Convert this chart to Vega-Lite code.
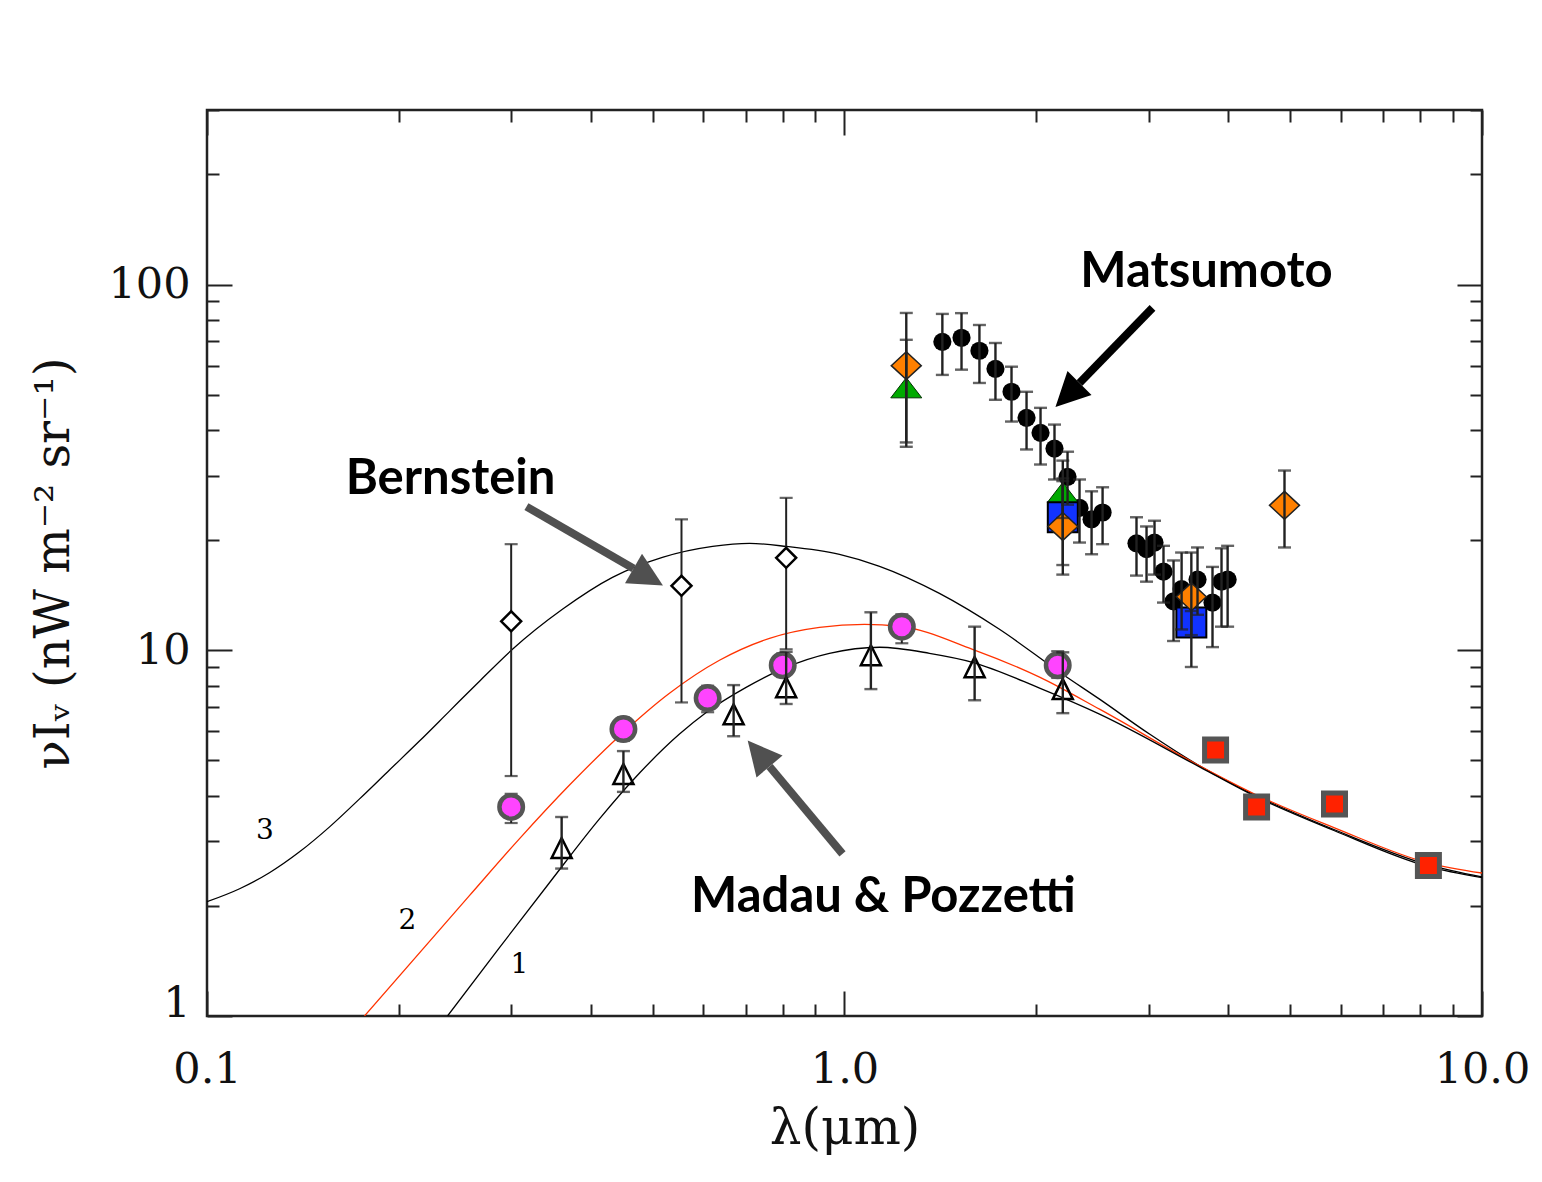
{
  "$schema": "https://vega.github.io/schema/vega-lite/v6.json",
  "width": 1275,
  "height": 906,
  "autosize": {"type": "none"},
  "padding": {"left": 207, "top": 110, "right": 60, "bottom": 166},
  "background": "white",
  "config": {
    "view": {"stroke": "#222", "strokeWidth": 2.5},
    "axis": {
      "domain": false, "grid": false, "tickColor": "#222", "tickWidth": 2,
      "labelFont": "DejaVu Serif", "labelFontSize": 43, "labelColor": "#111",
      "titleFont": "DejaVu Serif", "titleFontWeight": "normal", "titleColor": "#111"
    }
  },
  "datasets": {
    "curves": [
      {"model": "3", "lam": 0.1, "v": 2.053}, {"model": "3", "lam": 0.1125, "v": 2.228}, {"model": "3", "lam": 0.1253, "v": 2.464},
      {"model": "3", "lam": 0.1397, "v": 2.811}, {"model": "3", "lam": 0.1557, "v": 3.289}, {"model": "3", "lam": 0.1735, "v": 3.923},
      {"model": "3", "lam": 0.1933, "v": 4.706}, {"model": "3", "lam": 0.2154, "v": 5.645}, {"model": "3", "lam": 0.2401, "v": 6.818},
      {"model": "3", "lam": 0.2676, "v": 8.23}, {"model": "3", "lam": 0.3014, "v": 10.06}, {"model": "3", "lam": 0.361, "v": 12.94},
      {"model": "3", "lam": 0.4325, "v": 15.82}, {"model": "3", "lam": 0.518, "v": 17.94}, {"model": "3", "lam": 0.621, "v": 19.22},
      {"model": "3", "lam": 0.7096, "v": 19.6}, {"model": "3", "lam": 0.811, "v": 19.22}, {"model": "3", "lam": 0.982, "v": 18.28},
      {"model": "3", "lam": 1.135, "v": 16.96}, {"model": "3", "lam": 1.409, "v": 14.3}, {"model": "3", "lam": 1.75, "v": 11.41},
      {"model": "3", "lam": 2.198, "v": 8.6}, {"model": "3", "lam": 2.512, "v": 7.35}, {"model": "3", "lam": 3.009, "v": 5.9},
      {"model": "3", "lam": 3.605, "v": 4.83}, {"model": "3", "lam": 4.43, "v": 4.0}, {"model": "3", "lam": 5.87, "v": 3.23},
      {"model": "3", "lam": 8.24, "v": 2.59}, {"model": "3", "lam": 10, "v": 2.4},
      {"model": "2", "lam": 0.1766, "v": 1.0}, {"model": "2", "lam": 0.258, "v": 2.133}, {"model": "2", "lam": 0.309, "v": 3.05},
      {"model": "2", "lam": 0.3704, "v": 4.28}, {"model": "2", "lam": 0.4436, "v": 5.83}, {"model": "2", "lam": 0.5314, "v": 7.63},
      {"model": "2", "lam": 0.6366, "v": 9.39}, {"model": "2", "lam": 0.7628, "v": 10.78}, {"model": "2", "lam": 0.9137, "v": 11.55},
      {"model": "2", "lam": 1.075, "v": 11.77}, {"model": "2", "lam": 1.22, "v": 11.63}, {"model": "2", "lam": 1.588, "v": 10.06},
      {"model": "2", "lam": 2.023, "v": 8.44}, {"model": "2", "lam": 2.512, "v": 6.9}, {"model": "2", "lam": 3.605, "v": 4.83},
      {"model": "2", "lam": 4.43, "v": 4.02}, {"model": "2", "lam": 5.87, "v": 3.27}, {"model": "2", "lam": 8.24, "v": 2.62},
      {"model": "2", "lam": 10, "v": 2.46},
      {"model": "1", "lam": 0.2384, "v": 1.0}, {"model": "1", "lam": 0.2876, "v": 1.538}, {"model": "1", "lam": 0.3445, "v": 2.314},
      {"model": "1", "lam": 0.4127, "v": 3.459}, {"model": "1", "lam": 0.477, "v": 4.617}, {"model": "1", "lam": 0.551, "v": 5.9},
      {"model": "1", "lam": 0.6075, "v": 6.77}, {"model": "1", "lam": 0.702, "v": 7.93}, {"model": "1", "lam": 0.811, "v": 8.99},
      {"model": "1", "lam": 0.947, "v": 9.81}, {"model": "1", "lam": 1.135, "v": 10.19}, {"model": "1", "lam": 1.359, "v": 9.81},
      {"model": "1", "lam": 1.588, "v": 9.27}, {"model": "1", "lam": 2.023, "v": 7.88}, {"model": "1", "lam": 2.512, "v": 6.69},
      {"model": "1", "lam": 3.605, "v": 4.8}, {"model": "1", "lam": 4.43, "v": 3.97}, {"model": "1", "lam": 5.87, "v": 3.21},
      {"model": "1", "lam": 8.24, "v": 2.56}, {"model": "1", "lam": 10, "v": 2.39}
    ],
    "curveLabels": [
      {"label": "3", "lam": 0.1233, "v": 3.21},
      {"label": "2", "lam": 0.2063, "v": 1.82},
      {"label": "1", "lam": 0.309, "v": 1.38}
    ],
    "pts": [
      {"set": "matsumoto", "lam": 1.424, "v": 69.7, "lo": 56.6, "hi": 83.1},
      {"set": "matsumoto", "lam": 1.526, "v": 71.5, "lo": 58.5, "hi": 83.5},
      {"set": "matsumoto", "lam": 1.628, "v": 65.9, "lo": 53.8, "hi": 77.5},
      {"set": "matsumoto", "lam": 1.725, "v": 58.8, "lo": 48.4, "hi": 69.2},
      {"set": "matsumoto", "lam": 1.828, "v": 50.9, "lo": 42.2, "hi": 59.6},
      {"set": "matsumoto", "lam": 1.93, "v": 43.2, "lo": 35.4, "hi": 50.9},
      {"set": "matsumoto", "lam": 2.03, "v": 39.3, "lo": 32.2, "hi": 46.0},
      {"set": "matsumoto", "lam": 2.135, "v": 35.6, "lo": 29.3, "hi": 41.4},
      {"set": "matsumoto", "lam": 2.238, "v": 29.8, "lo": 25.0, "hi": 34.9},
      {"set": "matsumoto", "lam": 2.337, "v": 24.5, "lo": 19.7, "hi": 29.3},
      {"set": "matsumoto", "lam": 2.441, "v": 22.8, "lo": 18.3, "hi": 27.2},
      {"set": "matsumoto", "lam": 2.54, "v": 23.8, "lo": 19.5, "hi": 27.9},
      {"set": "matsumoto", "lam": 2.871, "v": 19.6, "lo": 16.0, "hi": 23.1},
      {"set": "matsumoto", "lam": 2.977, "v": 18.9, "lo": 15.4, "hi": 21.8},
      {"set": "matsumoto", "lam": 3.064, "v": 19.7, "lo": 16.1, "hi": 22.6},
      {"set": "matsumoto", "lam": 3.165, "v": 16.4, "lo": 13.5, "hi": 19.3},
      {"set": "matsumoto", "lam": 3.282, "v": 13.6, "lo": 10.6, "hi": 17.6},
      {"set": "matsumoto", "lam": 3.379, "v": 14.7, "lo": 11.4, "hi": 18.5},
      {"set": "matsumoto", "lam": 3.579, "v": 15.6, "lo": 12.5, "hi": 19.1},
      {"set": "matsumoto", "lam": 3.778, "v": 13.5, "lo": 10.2, "hi": 16.9},
      {"set": "matsumoto", "lam": 3.903, "v": 15.4, "lo": 11.6, "hi": 19.0},
      {"set": "matsumoto", "lam": 3.99, "v": 15.6, "lo": 11.6, "hi": 19.3},
      {"set": "bernstein", "lam": 0.3, "v": 12.0, "lo": 4.53, "hi": 19.5},
      {"set": "bernstein", "lam": 0.555, "v": 15.0, "lo": 7.2, "hi": 22.8},
      {"set": "bernstein", "lam": 0.81, "v": 17.9, "lo": 10.06, "hi": 26.1},
      {"set": "madau", "lam": 0.36, "v": 2.88, "lo": 2.53, "hi": 3.5},
      {"set": "madau", "lam": 0.45, "v": 4.59, "lo": 4.1, "hi": 5.3},
      {"set": "madau", "lam": 0.67, "v": 6.68, "lo": 5.82, "hi": 8.03},
      {"set": "madau", "lam": 0.81, "v": 7.92, "lo": 7.13, "hi": 9.9},
      {"set": "madau", "lam": 1.1, "v": 9.69, "lo": 7.83, "hi": 12.7},
      {"set": "madau", "lam": 1.6, "v": 8.99, "lo": 7.3, "hi": 11.6},
      {"set": "madau", "lam": 2.2, "v": 7.83, "lo": 6.73, "hi": 9.87},
      {"set": "pink", "lam": 0.3, "v": 3.73, "lo": 3.37, "hi": 4.05},
      {"set": "pink", "lam": 0.45, "v": 6.09, "lo": 5.65, "hi": 6.55},
      {"set": "pink", "lam": 0.61, "v": 7.4, "lo": 6.77, "hi": 8.0},
      {"set": "pink", "lam": 0.8, "v": 9.1, "lo": 8.45, "hi": 9.8},
      {"set": "pink", "lam": 1.23, "v": 11.6, "lo": 10.45, "hi": 12.54},
      {"set": "pink", "lam": 2.16, "v": 9.1, "lo": 8.4, "hi": 9.94},
      {"set": "red", "lam": 3.82, "v": 5.34},
      {"set": "red", "lam": 4.43, "v": 3.73},
      {"set": "red", "lam": 5.87, "v": 3.8},
      {"set": "red", "lam": 8.24, "v": 2.58},
      {"set": "green", "lam": 1.25, "v": 52.2, "lo": 37.0, "hi": 70.6},
      {"set": "green", "lam": 2.2, "v": 27.0, "lo": 23.0, "hi": 33.0},
      {"set": "blue", "lam": 2.2, "v": 23.1, "lo": 17.1, "hi": 29.0},
      {"set": "blue", "lam": 3.5, "v": 11.9, "lo": 11.0, "hi": 12.8},
      {"set": "orange", "lam": 1.25, "v": 60.0, "lo": 36.0, "hi": 83.6},
      {"set": "orange", "lam": 2.2, "v": 21.8, "lo": 16.1, "hi": 29.5},
      {"set": "orange", "lam": 3.5, "v": 14.0, "lo": 9.0, "hi": 18.5},
      {"set": "orange", "lam": 4.9, "v": 24.9, "lo": 19.1, "hi": 31.0}
    ],
    "arrows": [
      {"arrow": "matsumoto", "lam": 3.042, "v": 86.3, "lam2": 2.337, "v2": 53.8},
      {"arrow": "bernstein", "lam": 0.317, "v": 24.7, "lam2": 0.4667, "v2": 16.74},
      {"arrow": "madau", "lam": 0.9928, "v": 2.776, "lam2": 0.7628, "v2": 4.81}
    ],
    "notes": [
      {"label": "Matsumoto", "lam": 3.697, "v": 108.2},
      {"label": "Bernstein", "lam": 0.241, "v": 29.3},
      {"label": "Madau & Pozzetti", "lam": 1.151, "v": 2.12}
    ]
  },
  "resolve": {"axis": {"x": "independent", "y": "independent"}},
  "layer": [
    {
      "data": {"name": "curves"},
      "mark": {"type": "line", "interpolate": "monotone", "strokeWidth": 1.3, "clip": true},
      "encoding": {
        "x": {"field": "lam", "type": "quantitative", "scale": {"type": "log", "domain": [0.1, 10], "nice": false},
          "axis": {"orient": "bottom", "values": [0.1, 1, 10], "tickSize": -25, "labelExpr": "format(datum.value, '.1f')",
            "labelPadding": 57, "labelFlush": false, "labelOverlap": false, "labelBound": false,
            "title": "λ(μm)", "titleFontSize": 50, "titlePadding": 12}},
        "y": {"field": "v", "type": "quantitative", "scale": {"type": "log", "domain": [1, 300], "nice": false},
          "axis": {"orient": "left", "values": [1, 10, 100], "tickSize": -25, "labelExpr": "format(datum.value, 'd')",
            "labelPadding": 42, "labelOverlap": false, "labelBound": false,
            "labelBaseline": {"condition": {"test": "datum.value === 1", "value": "alphabetic"}, "value": "middle"},
            "title": "νIᵥ (nW m⁻² sr⁻¹)", "titleFontSize": 48, "titlePadding": 29}},
        "stroke": {"field": "model", "type": "nominal", "scale": {"domain": ["1", "2", "3"], "range": ["#000000", "#ff3300", "#000000"]}, "legend": null}
      }
    },
    {
      "data": {"name": "curves"},
      "mark": {"type": "point", "opacity": 0},
      "encoding": {
        "x": {"field": "lam", "type": "quantitative", "scale": {"type": "log", "domain": [0.1, 10], "nice": false},
          "axis": {"orient": "bottom", "values": [0.2, 0.3, 0.4, 0.5, 0.6, 0.7, 0.8, 0.9, 2, 3, 4, 5, 6, 7, 8, 9], "tickSize": -12, "labels": false, "title": null}},
        "y": {"field": "v", "type": "quantitative", "scale": {"type": "log", "domain": [1, 300], "nice": false},
          "axis": {"orient": "left", "values": [2, 3, 4, 5, 6, 7, 8, 9, 20, 30, 40, 50, 60, 70, 80, 90, 200, 300], "tickSize": -12, "labels": false, "title": null}}
      }
    },
    {
      "data": {"name": "curves"},
      "mark": {"type": "point", "opacity": 0},
      "encoding": {
        "x": {"field": "lam", "type": "quantitative", "scale": {"type": "log", "domain": [0.1, 10], "nice": false},
          "axis": {"orient": "top", "values": [0.1, 1, 10], "tickSize": -25, "labels": false, "title": null}},
        "y": {"field": "v", "type": "quantitative", "scale": {"type": "log", "domain": [1, 300], "nice": false},
          "axis": {"orient": "right", "values": [1, 10, 100], "tickSize": -25, "labels": false, "title": null}}
      }
    },
    {
      "data": {"name": "curves"},
      "mark": {"type": "point", "opacity": 0},
      "encoding": {
        "x": {"field": "lam", "type": "quantitative", "scale": {"type": "log", "domain": [0.1, 10], "nice": false},
          "axis": {"orient": "top", "values": [0.2, 0.3, 0.4, 0.5, 0.6, 0.7, 0.8, 0.9, 2, 3, 4, 5, 6, 7, 8, 9], "tickSize": -12, "labels": false, "title": null}},
        "y": {"field": "v", "type": "quantitative", "scale": {"type": "log", "domain": [1, 300], "nice": false},
          "axis": {"orient": "right", "values": [2, 3, 4, 5, 6, 7, 8, 9, 20, 30, 40, 50, 60, 70, 80, 90, 200, 300], "tickSize": -12, "labels": false, "title": null}}
      }
    },
    {
      "data": {"name": "curveLabels"},
      "mark": {"type": "text", "font": "DejaVu Serif", "fontSize": 28, "color": "#000", "baseline": "middle", "align": "center"},
      "encoding": {
        "x": {"field": "lam", "type": "quantitative", "scale": {"type": "log", "domain": [0.1, 10], "nice": false}, "axis": null},
        "y": {"field": "v", "type": "quantitative", "scale": {"type": "log", "domain": [1, 300], "nice": false}, "axis": null},
        "text": {"field": "label"}
      }
    },
    {
      "data": {"name": "pts"},
      "transform": [{"filter": "datum.set === 'pink'"}],
      "mark": {"type": "rule", "color": "#222", "strokeWidth": 2},
      "encoding": {
        "x": {"field": "lam", "type": "quantitative", "scale": {"type": "log", "domain": [0.1, 10], "nice": false}, "axis": null},
        "y": {"field": "lo", "type": "quantitative", "scale": {"type": "log", "domain": [1, 300], "nice": false}, "axis": null},
        "y2": {"field": "hi"}
      }
    },
    {
      "data": {"name": "pts"},
      "transform": [{"filter": "datum.set === 'pink'"}, {"fold": ["lo", "hi"], "as": ["end", "cap"]}],
      "mark": {"type": "tick", "orient": "horizontal", "size": 13, "thickness": 2.2, "color": "#222"},
      "encoding": {
        "x": {"field": "lam", "type": "quantitative", "scale": {"type": "log", "domain": [0.1, 10], "nice": false}, "axis": null},
        "y": {"field": "cap", "type": "quantitative", "scale": {"type": "log", "domain": [1, 300], "nice": false}, "axis": null}
      }
    },
    {
      "data": {"name": "pts"},
      "transform": [{"filter": "datum.set === 'pink'"}],
      "mark": {"type": "point", "shape": "circle", "filled": true, "size": 552, "fill": "#ff44ff", "stroke": "#555555", "strokeWidth": 4.5, "opacity": 1},
      "encoding": {
        "x": {"field": "lam", "type": "quantitative", "scale": {"type": "log", "domain": [0.1, 10], "nice": false}, "axis": null},
        "y": {"field": "v", "type": "quantitative", "scale": {"type": "log", "domain": [1, 300], "nice": false}, "axis": null}
      }
    },
    {
      "data": {"name": "pts"},
      "transform": [{"filter": "datum.set === 'red'"}],
      "mark": {"type": "point", "shape": "square", "filled": true, "size": 484, "fill": "#ff2200", "stroke": "#555555", "strokeWidth": 5, "opacity": 1},
      "encoding": {
        "x": {"field": "lam", "type": "quantitative", "scale": {"type": "log", "domain": [0.1, 10], "nice": false}, "axis": null},
        "y": {"field": "v", "type": "quantitative", "scale": {"type": "log", "domain": [1, 300], "nice": false}, "axis": null}
      }
    },
    {
      "data": {"name": "pts"},
      "transform": [{"filter": "datum.set === 'bernstein'"}],
      "mark": {"type": "rule", "color": "#222", "strokeWidth": 2},
      "encoding": {
        "x": {"field": "lam", "type": "quantitative", "scale": {"type": "log", "domain": [0.1, 10], "nice": false}, "axis": null},
        "y": {"field": "lo", "type": "quantitative", "scale": {"type": "log", "domain": [1, 300], "nice": false}, "axis": null},
        "y2": {"field": "hi"}
      }
    },
    {
      "data": {"name": "pts"},
      "transform": [{"filter": "datum.set === 'bernstein'"}, {"fold": ["lo", "hi"], "as": ["end", "cap"]}],
      "mark": {"type": "tick", "orient": "horizontal", "size": 13, "thickness": 2.2, "color": "#222"},
      "encoding": {
        "x": {"field": "lam", "type": "quantitative", "scale": {"type": "log", "domain": [0.1, 10], "nice": false}, "axis": null},
        "y": {"field": "cap", "type": "quantitative", "scale": {"type": "log", "domain": [1, 300], "nice": false}, "axis": null}
      }
    },
    {
      "data": {"name": "pts"},
      "transform": [{"filter": "datum.set === 'bernstein'"}],
      "mark": {"type": "point", "shape": "diamond", "filled": true, "size": 400, "fill": "white", "stroke": "#000", "strokeWidth": 2.5, "opacity": 1},
      "encoding": {
        "x": {"field": "lam", "type": "quantitative", "scale": {"type": "log", "domain": [0.1, 10], "nice": false}, "axis": null},
        "y": {"field": "v", "type": "quantitative", "scale": {"type": "log", "domain": [1, 300], "nice": false}, "axis": null}
      }
    },
    {
      "data": {"name": "pts"},
      "transform": [{"filter": "datum.set === 'madau'"}],
      "mark": {"type": "point", "shape": "M0,-1L1,1L-1,1Z", "filled": false, "size": 400, "stroke": "#000", "strokeWidth": 2.5, "opacity": 1},
      "encoding": {
        "x": {"field": "lam", "type": "quantitative", "scale": {"type": "log", "domain": [0.1, 10], "nice": false}, "axis": null},
        "y": {"field": "v", "type": "quantitative", "scale": {"type": "log", "domain": [1, 300], "nice": false}, "axis": null}
      }
    },
    {
      "data": {"name": "pts"},
      "transform": [{"filter": "datum.set === 'matsumoto'"}],
      "mark": {"type": "point", "shape": "circle", "filled": true, "size": 330, "color": "#000", "opacity": 1},
      "encoding": {
        "x": {"field": "lam", "type": "quantitative", "scale": {"type": "log", "domain": [0.1, 10], "nice": false}, "axis": null},
        "y": {"field": "v", "type": "quantitative", "scale": {"type": "log", "domain": [1, 300], "nice": false}, "axis": null}
      }
    },
    {
      "data": {"name": "pts"},
      "transform": [{"filter": "datum.set === 'green'"}],
      "mark": {"type": "point", "shape": "M0,-0.65L1,0.65L-1,0.65Z", "filled": true, "size": 961, "fill": "#00aa00", "stroke": "#003300", "strokeWidth": 1, "opacity": 1},
      "encoding": {
        "x": {"field": "lam", "type": "quantitative", "scale": {"type": "log", "domain": [0.1, 10], "nice": false}, "axis": null},
        "y": {"field": "v", "type": "quantitative", "scale": {"type": "log", "domain": [1, 300], "nice": false}, "axis": null}
      }
    },
    {
      "data": {"name": "pts"},
      "transform": [{"filter": "datum.set === 'blue'"}],
      "mark": {"type": "point", "shape": "square", "filled": true, "size": 900, "fill": "#1133ff", "stroke": "#000", "strokeWidth": 2, "opacity": 1},
      "encoding": {
        "x": {"field": "lam", "type": "quantitative", "scale": {"type": "log", "domain": [0.1, 10], "nice": false}, "axis": null},
        "y": {"field": "v", "type": "quantitative", "scale": {"type": "log", "domain": [1, 300], "nice": false}, "axis": null}
      }
    },
    {
      "data": {"name": "pts"},
      "transform": [{"filter": "datum.set === 'orange'"}],
      "mark": {"type": "point", "shape": "M0,-0.93L1,0L0,0.93L-1,0Z", "filled": true, "size": 900, "fill": "#ff8000", "stroke": "#222", "strokeWidth": 1.5, "opacity": 1},
      "encoding": {
        "x": {"field": "lam", "type": "quantitative", "scale": {"type": "log", "domain": [0.1, 10], "nice": false}, "axis": null},
        "y": {"field": "v", "type": "quantitative", "scale": {"type": "log", "domain": [1, 300], "nice": false}, "axis": null}
      }
    },
    {
      "data": {"name": "pts"},
      "transform": [{"filter": "indexof(['matsumoto', 'madau', 'green', 'blue', 'orange'], datum.set) >= 0"}],
      "mark": {"type": "rule", "color": "#222", "strokeWidth": 2.4},
      "encoding": {
        "x": {"field": "lam", "type": "quantitative", "scale": {"type": "log", "domain": [0.1, 10], "nice": false}, "axis": null},
        "y": {"field": "lo", "type": "quantitative", "scale": {"type": "log", "domain": [1, 300], "nice": false}, "axis": null},
        "y2": {"field": "hi"}
      }
    },
    {
      "data": {"name": "pts"},
      "transform": [{"filter": "indexof(['matsumoto', 'madau', 'green', 'blue', 'orange'], datum.set) >= 0"}, {"fold": ["lo", "hi"], "as": ["end", "cap"]}],
      "mark": {"type": "tick", "orient": "horizontal", "size": 13, "thickness": 2.4, "color": "#222"},
      "encoding": {
        "x": {"field": "lam", "type": "quantitative", "scale": {"type": "log", "domain": [0.1, 10], "nice": false}, "axis": null},
        "y": {"field": "cap", "type": "quantitative", "scale": {"type": "log", "domain": [1, 300], "nice": false}, "axis": null}
      }
    },
    {
      "data": {"name": "arrows"},
      "mark": {"type": "rule", "strokeWidth": 8, "strokeCap": "butt"},
      "encoding": {
        "x": {"field": "lam", "type": "quantitative", "scale": {"type": "log", "domain": [0.1, 10], "nice": false}, "axis": null},
        "y": {"field": "v", "type": "quantitative", "scale": {"type": "log", "domain": [1, 300], "nice": false}, "axis": null},
        "x2": {"field": "lam2"},
        "y2": {"field": "v2"},
        "color": {"field": "arrow", "type": "nominal", "scale": {"domain": ["matsumoto", "bernstein", "madau"], "range": ["#000000", "#505050", "#505050"]}, "legend": null}
      }
    },
    {
      "data": {"name": "arrows"},
      "transform": [{"filter": "datum.arrow === 'matsumoto'"}],
      "mark": {"type": "point", "shape": "M0,-2L1,0L-1,0Z", "filled": true, "size": 1156, "angle": 225, "opacity": 1},
      "encoding": {
        "x": {"field": "lam2", "type": "quantitative", "scale": {"type": "log", "domain": [0.1, 10], "nice": false}, "axis": null},
        "y": {"field": "v2", "type": "quantitative", "scale": {"type": "log", "domain": [1, 300], "nice": false}, "axis": null},
        "color": {"field": "arrow", "type": "nominal", "scale": {"domain": ["matsumoto", "bernstein", "madau"], "range": ["#000000", "#505050", "#505050"]}, "legend": null}
      }
    },
    {
      "data": {"name": "arrows"},
      "transform": [{"filter": "datum.arrow === 'bernstein'"}],
      "mark": {"type": "point", "shape": "M0,-2L1,0L-1,0Z", "filled": true, "size": 1156, "angle": 120, "opacity": 1},
      "encoding": {
        "x": {"field": "lam2", "type": "quantitative", "scale": {"type": "log", "domain": [0.1, 10], "nice": false}, "axis": null},
        "y": {"field": "v2", "type": "quantitative", "scale": {"type": "log", "domain": [1, 300], "nice": false}, "axis": null},
        "color": {"field": "arrow", "type": "nominal", "scale": {"domain": ["matsumoto", "bernstein", "madau"], "range": ["#000000", "#505050", "#505050"]}, "legend": null}
      }
    },
    {
      "data": {"name": "arrows"},
      "transform": [{"filter": "datum.arrow === 'madau'"}],
      "mark": {"type": "point", "shape": "M0,-2L1,0L-1,0Z", "filled": true, "size": 1156, "angle": 320, "opacity": 1},
      "encoding": {
        "x": {"field": "lam2", "type": "quantitative", "scale": {"type": "log", "domain": [0.1, 10], "nice": false}, "axis": null},
        "y": {"field": "v2", "type": "quantitative", "scale": {"type": "log", "domain": [1, 300], "nice": false}, "axis": null},
        "color": {"field": "arrow", "type": "nominal", "scale": {"domain": ["matsumoto", "bernstein", "madau"], "range": ["#000000", "#505050", "#505050"]}, "legend": null}
      }
    },
    {
      "data": {"name": "notes"},
      "mark": {"type": "text", "font": "Lato", "fontWeight": "bold", "fontSize": 49, "color": "#000", "baseline": "middle", "align": "center"},
      "encoding": {
        "x": {"field": "lam", "type": "quantitative", "scale": {"type": "log", "domain": [0.1, 10], "nice": false}, "axis": null},
        "y": {"field": "v", "type": "quantitative", "scale": {"type": "log", "domain": [1, 300], "nice": false}, "axis": null},
        "text": {"field": "label"}
      }
    }
  ]
}
